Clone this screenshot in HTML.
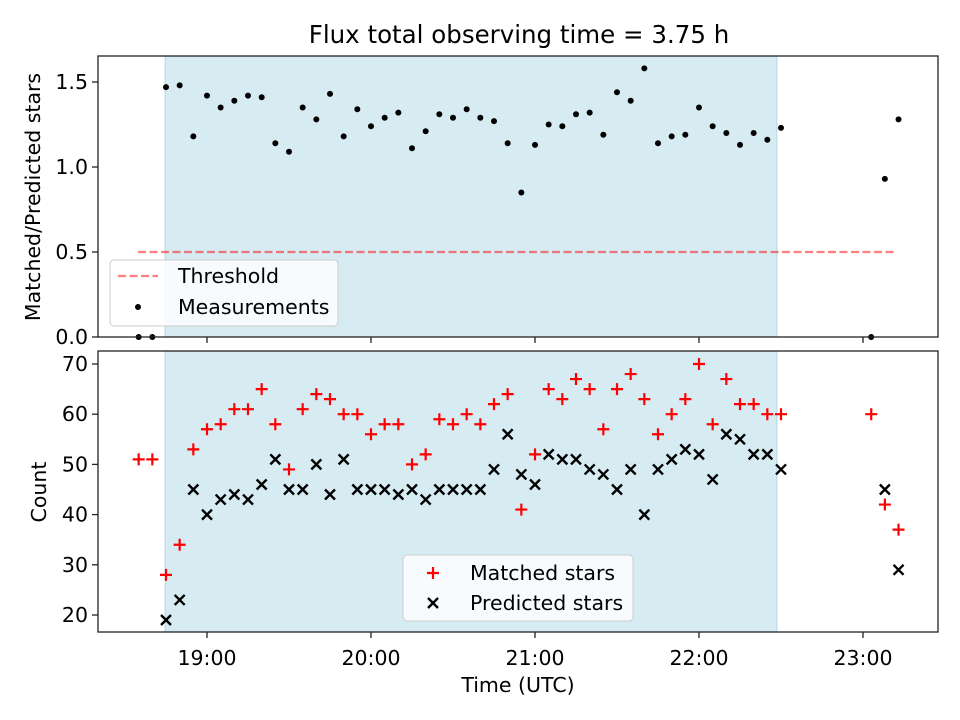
<!DOCTYPE html>
<html><head><meta charset="utf-8"><style>
body{margin:0;background:#fff;}
svg{display:block;font-family:"DejaVu Sans","Liberation Sans",sans-serif;}
</style></head><body>
<svg id="chart" width="960" height="720" viewBox="0 0 960 720" xmlns="http://www.w3.org/2000/svg"></svg>
<script>
// minutes after 18:00
const times = [35,40,45,50,55,60,65,70,75,80,85,90,95,100,105,110,115,120,125,130,135,140,145,150,155,160,165,170,175,180,185,190,195,200,205,210,215,220,225,230,235,240,245,250,255,260,265,270,303,308,313];
const matched = [51,51,28,34,53,57,58,61,61,65,58,49,61,64,63,60,60,56,58,58,50,52,59,58,60,58,62,64,41,52,65,63,67,65,57,65,68,63,56,60,63,70,58,67,62,62,60,60,60,42,37];
const predicted = [0,0,19,23,45,40,43,44,43,46,51,45,45,50,44,51,45,45,45,44,45,43,45,45,45,45,49,56,48,46,52,51,51,49,48,45,49,40,49,51,53,52,47,56,55,52,52,49,0,45,29];
const ratio = [0,0,1.47,1.48,1.18,1.42,1.35,1.39,1.42,1.41,1.14,1.09,1.35,1.28,1.43,1.18,1.34,1.24,1.29,1.32,1.11,1.21,1.31,1.29,1.34,1.29,1.27,1.14,0.85,1.13,1.25,1.24,1.31,1.32,1.19,1.44,1.39,1.58,1.14,1.18,1.19,1.35,1.24,1.20,1.13,1.20,1.16,1.23,0,0.93,1.28];
const xTicks = [60,120,180,240,300];
const xTickLabels = ["19:00","20:00","21:00","22:00","23:00"];
const topTicks = [0,0.5,1.0,1.5];
const botTicks = [20,30,40,50,60,70];
const threshold = 0.5;
const shadeStart = 44.7, shadeEnd = 268.5;

const NS="http://www.w3.org/2000/svg";
const svg=document.getElementById('chart');
function el(tag,attrs,parent){const e=document.createElementNS(NS,tag);for(const k in attrs)e.setAttribute(k,attrs[k]);(parent||svg).appendChild(e);return e;}
const L=98,R=938;
const FS='20.5';
const xs=m=>207+(m-60)*164/60;
const T={top:56,bot:337};
const ysTop=v=>337-v*170;
const B={top:351,bot:632};
const ysBot=v=>615-(v-20)*5.02;

let t=el('text',{x:519,y:43,'text-anchor':'middle','font-size':'24.5'});t.textContent='Flux total observing time = 3.75 h';


function panel(P,name){
  const g=el('g',{});
  
  const s=el('rect',{x:xs(shadeStart),y:P.top,width:xs(shadeEnd)-xs(shadeStart),height:P.bot-P.top,fill:'#add8e6','fill-opacity':'0.5',stroke:'#add8e6'},g);
  
  return g;
}
function frame(P,g){
  el('rect',{x:L,y:P.top,width:R-L,height:P.bot-P.top,fill:'none',stroke:'#222','stroke-width':1.3},g);
  xTicks.forEach(m=>el('line',{x1:xs(m),x2:xs(m),y1:P.bot,y2:P.bot+6,stroke:'#222','stroke-width':1.3},g));
}

const g1=panel(T,'ratio-panel');
const th=el('line',{x1:138,x2:895,y1:ysTop(threshold),y2:ysTop(threshold),stroke:'#ff0000','stroke-opacity':'0.5','stroke-width':2.2,'stroke-dasharray':'8,3.5'},g1);

ratio.forEach((v,i)=>{const c=el('circle',{cx:xs(times[i]),cy:ysTop(v),r:3,fill:'#000'},g1);
});
frame(T,g1);
topTicks.forEach(v=>{el('line',{x1:L-6,x2:L,y1:ysTop(v),y2:ysTop(v),stroke:'#222','stroke-width':1.3},g1);
const tx=el('text',{x:L-10,y:ysTop(v)+7,'text-anchor':'end','font-size':FS},g1);tx.textContent=v.toFixed(1);
});
let yl=el('text',{transform:'translate(40,197) rotate(-90)','text-anchor':'middle','font-size':FS});yl.textContent='Matched/Predicted stars';

const lg1=el('g',{});
el('rect',{x:110,y:260,width:228,height:66,rx:4,fill:'#fff','fill-opacity':'0.8',stroke:'#ccc'},lg1);
el('line',{x1:118,x2:158,y1:276,y2:276,stroke:'#ff0000','stroke-opacity':'0.5','stroke-width':2.2,'stroke-dasharray':'8,3.5'},lg1);
let lt=el('text',{x:178,y:283,'font-size':FS},lg1);lt.textContent='Threshold';
el('circle',{cx:138,cy:307,r:3,fill:'#000'},lg1);
lt=el('text',{x:178,y:314,'font-size':FS},lg1);lt.textContent='Measurements';

const g2=panel(B,'count-panel');
matched.forEach((v,i)=>{const x=xs(times[i]),y=ysBot(v);
const p=el('path',{d:`M${x-6} ${y}H${x+6}M${x} ${y-6}V${y+6}`,stroke:'#ff0000','stroke-width':2.2},g2);
});
predicted.forEach((v,i)=>{if(v<=0)return;const x=xs(times[i]),y=ysBot(v);
const p=el('path',{d:`M${x-5} ${y-5}L${x+5} ${y+5}M${x-5} ${y+5}L${x+5} ${y-5}`,stroke:'#000','stroke-width':2.4},g2);
});
frame(B,g2);
botTicks.forEach(v=>{el('line',{x1:L-6,x2:L,y1:ysBot(v),y2:ysBot(v),stroke:'#222','stroke-width':1.3},g2);
const tx=el('text',{x:L-10,y:ysBot(v)+7,'text-anchor':'end','font-size':FS},g2);tx.textContent=v;
});
xTicks.forEach((m,i)=>{const tx=el('text',{x:xs(m),y:665,'text-anchor':'middle','font-size':FS},g2);tx.textContent=xTickLabels[i];
});
yl=el('text',{transform:'translate(46,492) rotate(-90)','text-anchor':'middle','font-size':FS});yl.textContent='Count';

let xl=el('text',{x:518,y:692,'text-anchor':'middle','font-size':FS});xl.textContent='Time (UTC)';

const lg2=el('g',{});
el('rect',{x:403,y:555,width:230,height:66,rx:4,fill:'#fff','fill-opacity':'0.8',stroke:'#ccc'},lg2);
el('path',{d:'M427 573H439M433 567V579',stroke:'#ff0000','stroke-width':2.2},lg2);
lt=el('text',{x:470,y:580,'font-size':FS},lg2);lt.textContent='Matched stars';
el('path',{d:'M428 598L438 608M428 608L438 598',stroke:'#000','stroke-width':2.4},lg2);
lt=el('text',{x:470,y:610,'font-size':FS},lg2);lt.textContent='Predicted stars';
</script>
</body></html>
